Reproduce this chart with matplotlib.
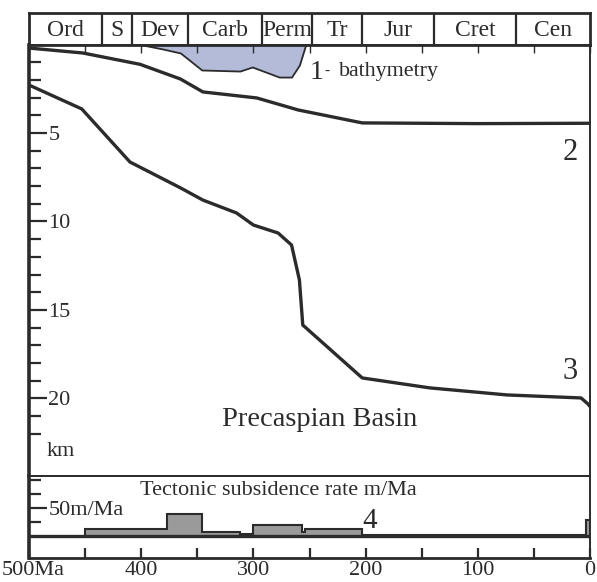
import numpy as np
import matplotlib
matplotlib.use('Agg')
import matplotlib.pyplot as plt
from matplotlib.ticker import MultipleLocator, FixedLocator

plt.rcParams['font.family'] = ['Liberation Serif', 'DejaVu Serif']

# ---- data (age in Ma, depth in km) ----
period_names = ['Ord', 'S', 'Dev', 'Carb', 'Perm', 'Tr', 'Jur', 'Cret', 'Cen']
period_edges = [500, 435, 408, 358, 292, 248, 203, 139, 66, 0]

bathy_age = [401, 381, 365, 346, 312, 301, 277, 266, 259, 254, 253]
bathy_depth = [0.0, 0.25, 0.48, 1.44, 1.5, 1.27, 1.84, 1.84, 1.16, 0.14, 0.0]

curve2_age = [500, 452, 401, 365, 345, 297, 260, 203, 100, 0]
curve2_depth = [0.2, 0.48, 1.12, 1.95, 2.68, 3.02, 3.7, 4.43, 4.47, 4.45]

curve3_age = [500, 453, 410, 365, 345, 315, 300, 278, 266, 259, 256, 203, 143, 74, 8, 2, 0]
curve3_depth = [2.29, 3.64, 6.64, 8.1, 8.79, 9.52, 10.2, 10.65, 11.33, 13.3, 15.85,
                18.84, 19.4, 19.8, 19.97, 20.3, 20.45]

rate_edges = [0, 4, 203, 254, 257, 300, 312, 346, 377, 450]
rate_values = [29, 1, 13, 7, 19, 3, 8, 40, 13]

age_ticks = [500, 400, 300, 200, 100, 0]
age_labels = ['500Ma', '400', '300', '200', '100', '0']

W, H = 597, 582
dark = '#2b2b2b'


def box(x0, y0, x1, y1):
    # pixel box -> figure fraction rect
    return [x0 / W, 1 - y1 / H, (x1 - x0) / W, (y1 - y0) / H]


fig = plt.figure(figsize=(W / 100, H / 100), dpi=100)

# period bar
axp = fig.add_axes(box(29, 13, 590, 44.5))
axp.set_xlim(500, 0)
axp.set_ylim(0, 1)
axp.set_xticks([])
axp.set_yticks([])
for s in axp.spines.values():
    s.set_linewidth(2)
    s.set_color(dark)
for e in period_edges[1:-1]:
    axp.axvline(e, color=dark, lw=1.6)
for i, name in enumerate(period_names):
    mid = (period_edges[i] + period_edges[i + 1]) / 2
    axp.text(mid, 0.46, name, ha='center', va='center', fontsize=17, color=dark)

# main subsidence panel
ax = fig.add_axes(box(29, 44.5, 590, 476))
ax.set_xlim(500, 0)
ax.set_ylim(24.38, 0)
ax.fill_between(bathy_age, 0, bathy_depth, color='#b3bbd9', edgecolor=dark, lw=1.3)
ax.plot(curve2_age, curve2_depth, color=dark, lw=2.4, solid_joinstyle='round')
ax.plot(curve3_age, curve3_depth, color=dark, lw=2.4, solid_joinstyle='round')

ax.yaxis.set_major_locator(FixedLocator([5, 10, 15, 20]))
ax.yaxis.set_minor_locator(FixedLocator([v for v in range(1, 23) if v % 5]))
ax.tick_params(axis='y', which='major', direction='in', length=13, width=1.6,
               pad=-14, labelsize=16, colors=dark)
ax.tick_params(axis='y', which='minor', direction='in', length=8.5, width=1.6, colors=dark)
for lab in ax.get_yticklabels():
    lab.set_ha('left')
ax.xaxis.set_major_locator(MultipleLocator(50))
ax.tick_params(axis='x', which='major', top=True, bottom=False, labeltop=False,
               labelbottom=False, direction='in', length=6, width=1, colors=dark)
ax.spines['left'].set_linewidth(2.6)
ax.spines['top'].set_linewidth(2)
ax.spines['right'].set_linewidth(1.4)
ax.spines['bottom'].set_linewidth(1.4)
for s in ax.spines.values():
    s.set_color(dark)

ax.text(244, 1.6, '1', fontsize=20, ha='center', va='center', color=dark)
ax.text(234.5, 1.5, '-', fontsize=11, ha='center', va='center', color=dark)
ax.text(224, 1.55, 'bathymetry', fontsize=15.8, ha='left', va='center', color=dark)
ax.text(18, 6.1, '2', fontsize=22, ha='center', va='center', color=dark)
ax.text(18, 18.5, '3', fontsize=22, ha='center', va='center', color=dark)
ax.text(241, 21.2, 'Precaspian Basin', fontsize=20.5, ha='center', va='center', color=dark)
ax.text(484, 23.0, 'km', fontsize=16, ha='left', va='center', color=dark)

# tectonic subsidence rate panel
axr = fig.add_axes(box(29, 476, 590, 558))
axr.set_xlim(500, 0)
axr.set_ylim(-39.3, 107.1)
axr.stairs(rate_values, rate_edges, baseline=0, fill=True, facecolor='#9a9a9a',
           edgecolor=dark, lw=1.2)
axr.stairs(rate_values, rate_edges, baseline=0, fill=False, color=dark, lw=1.5)
axr.axhline(0, color=dark, lw=2.4)

axr.yaxis.set_major_locator(FixedLocator([50]))
axr.yaxis.set_minor_locator(FixedLocator([25, 75, 100]))
axr.tick_params(axis='y', which='major', direction='in', length=13, width=1.6,
                pad=-14, labelsize=16, colors=dark)
axr.tick_params(axis='y', which='minor', direction='in', length=8.5, width=1.6, colors=dark)
axr.set_yticklabels(['50m/Ma'])
for lab in axr.get_yticklabels():
    lab.set_ha('left')
axr.xaxis.set_major_locator(FixedLocator(age_ticks))
axr.xaxis.set_minor_locator(FixedLocator([450, 350, 250, 150, 50]))
axr.set_xticklabels([''] + age_labels[1:])
axr.tick_params(axis='x', which='both', direction='in', length=7, width=1.6,
                labelsize=16, pad=2, colors=dark)
# first label sits a little right of the axis corner
axr.annotate(age_labels[0], xy=(age_ticks[0], 0), xycoords=('data', 'axes fraction'),
             xytext=(3, -2), textcoords='offset points', ha='center', va='top',
             fontsize=16, color=dark, annotation_clip=False)
axr.spines['left'].set_linewidth(2.6)
axr.spines['bottom'].set_linewidth(2)
axr.spines['right'].set_linewidth(1.4)
axr.spines['top'].set_linewidth(1.4)
for s in axr.spines.values():
    s.set_color(dark)

axr.text(278, 81, 'Tectonic subsidence rate m/Ma', fontsize=16, ha='center',
         va='center', color=dark)
axr.text(196, 26, '4', fontsize=21, ha='center', va='center', color=dark)

fig.savefig('out.png', dpi=100)
